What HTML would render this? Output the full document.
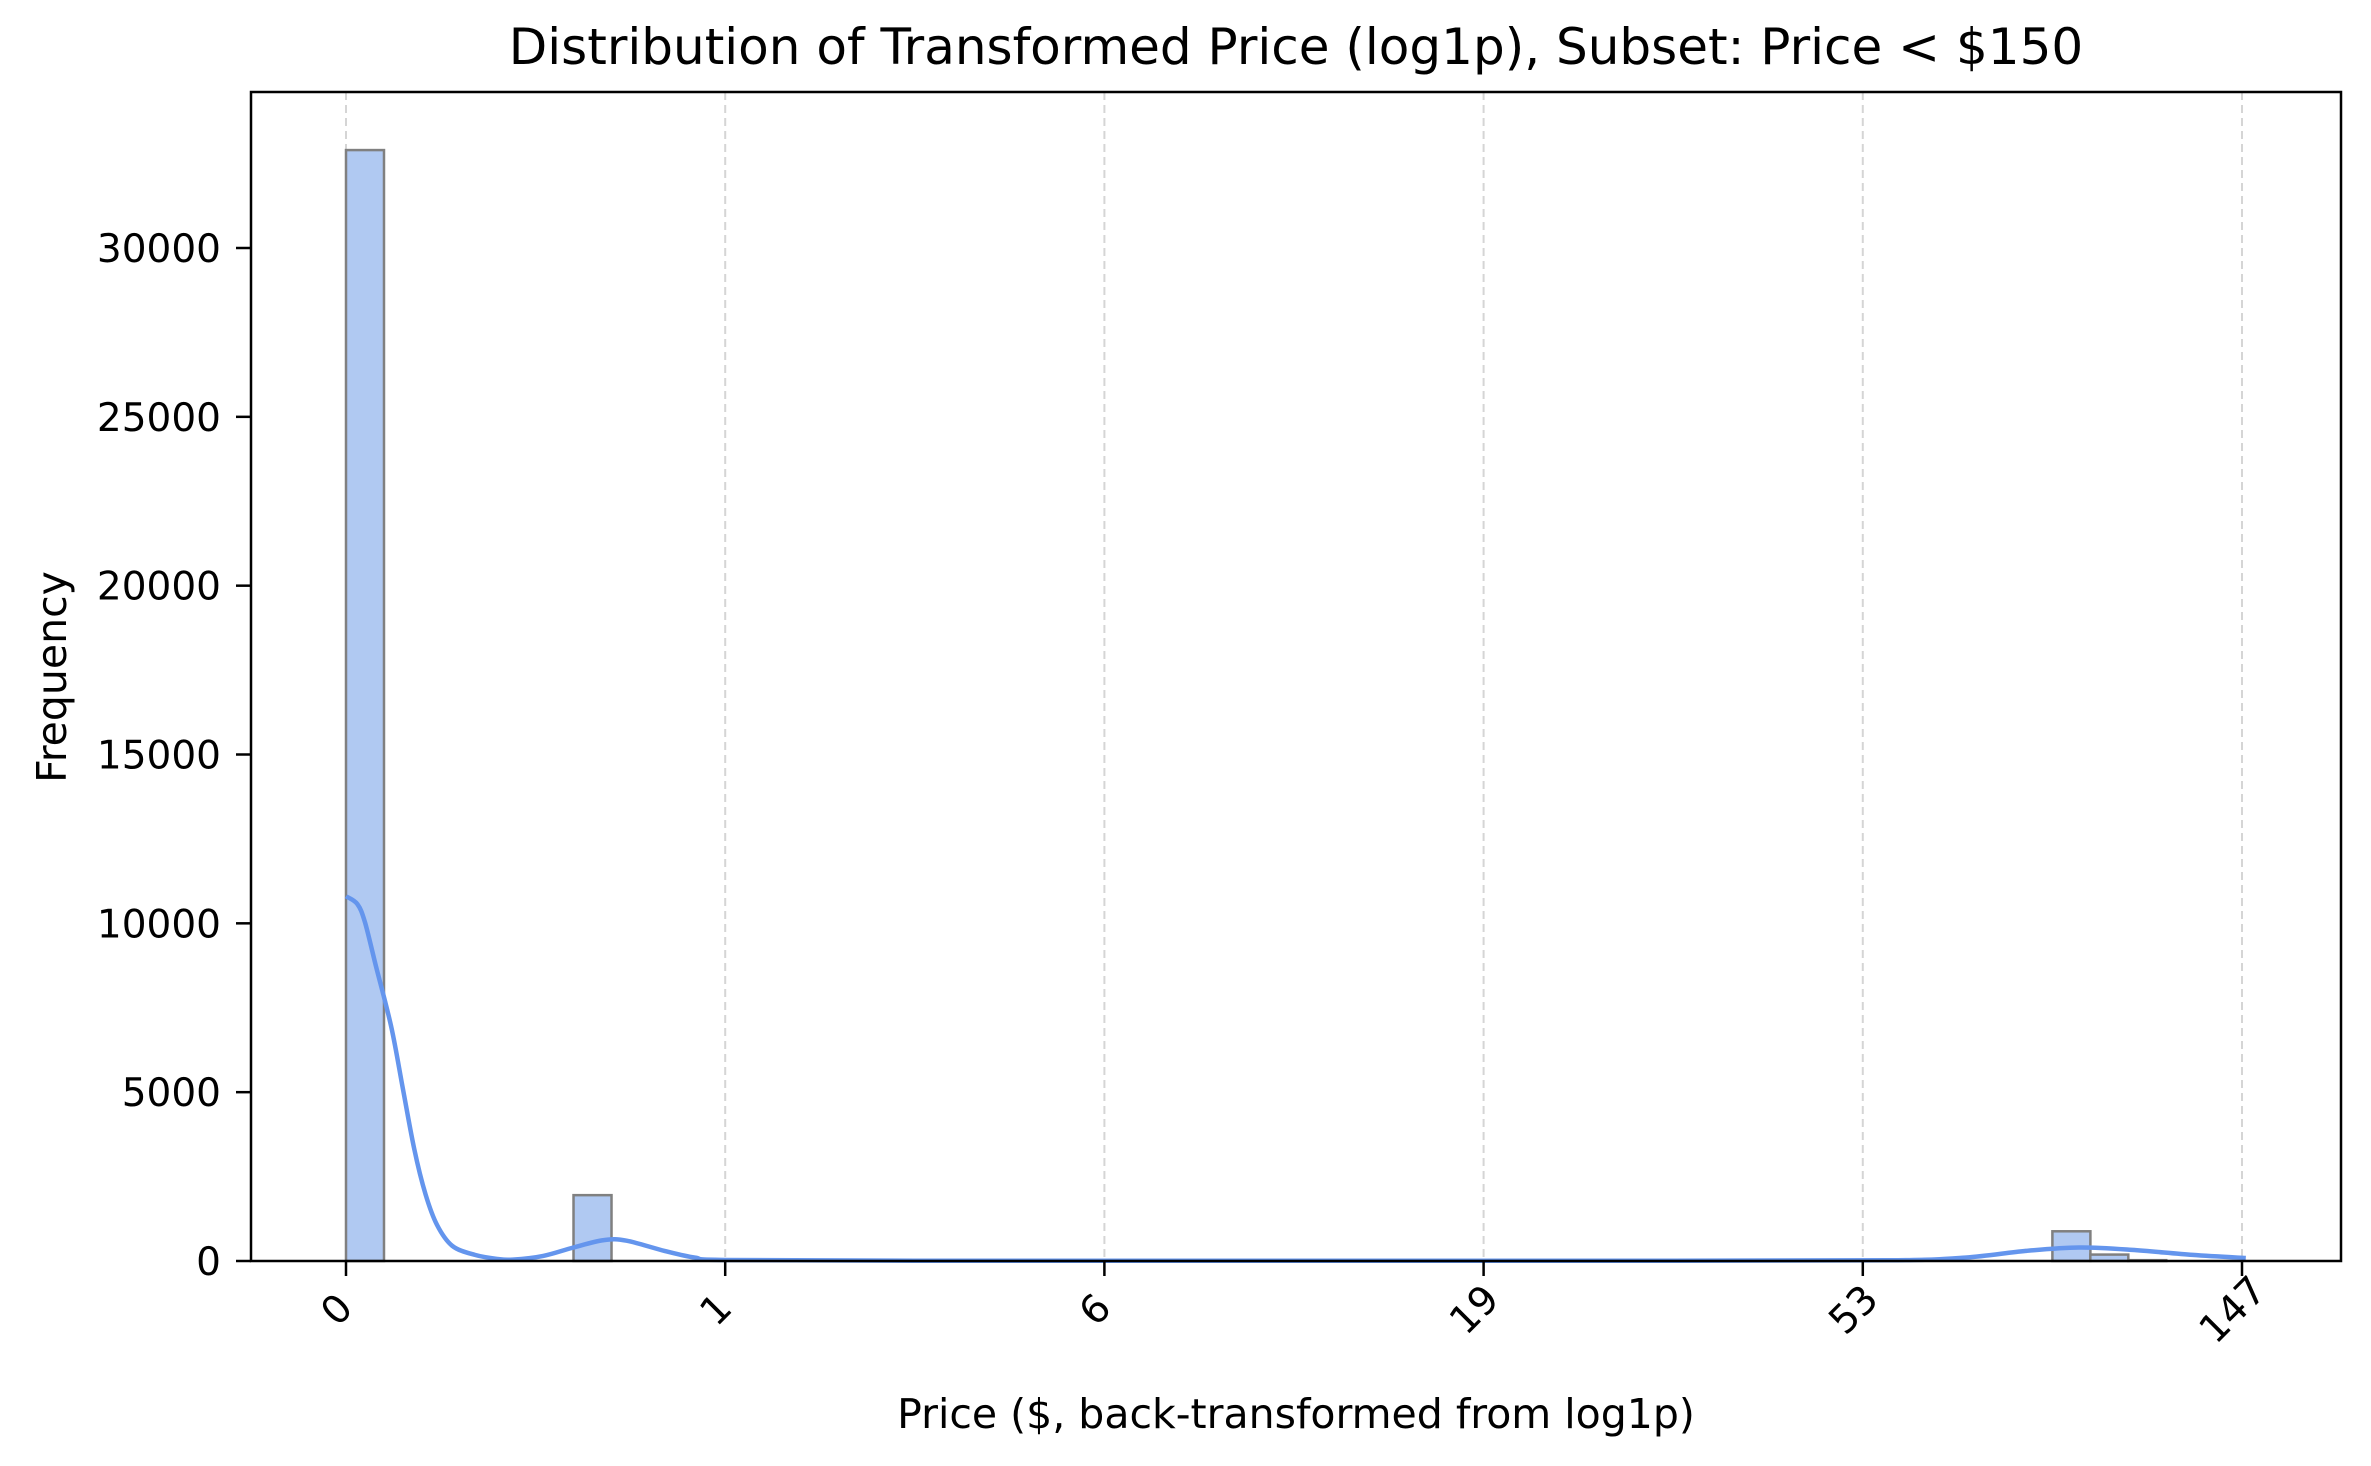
<!DOCTYPE html>
<html><head><meta charset="utf-8"><style>
html,body{margin:0;padding:0;background:#fff;}
svg{display:block;font-family:"DejaVu Sans","Liberation Sans",sans-serif;}
</style></head>
<body>
<svg id="chart" width="2371" height="1466" viewBox="0 0 2371 1466">
<text x="1296" y="64" font-size="50" text-anchor="middle">Distribution of Transformed Price (log1p), Subset: Price &lt; $150</text>
<text x="1296" y="1428" font-size="41" text-anchor="middle">Price ($, back-transformed from log1p)</text>
<text transform="translate(66,677) rotate(-90)" font-size="41" text-anchor="middle">Frequency</text>
<g id="plot"></g>
</svg>
<script>
const xTicks = [0, 1, 2, 3, 4, 5];
const xTickLabels = ["0", "1", "6", "19", "53", "147"];
const yTicks = [0, 5000, 10000, 15000, 20000, 25000, 30000];
const binStarts = [0, 0.6, 4.5, 4.6, 4.7];
const binCounts = [32900, 1950, 880, 190, 25];
const kdeX = [0,0.03,0.05,0.08,0.12,0.15,0.18,0.21,0.24,0.28,0.34,0.4,0.44,0.52,0.6,0.68,0.74,0.84,0.92,1.0,1.5,2.5,3.5,4.07,4.27,4.43,4.57,4.71,4.87,5.01];
const kdeY = [10800,10570,10030,8690,6900,5100,3310,1970,1070,450,180,60,40,150,400,620,600,300,100,30,10,5,10,20,100,300,400,330,180,90];

const NS = "http://www.w3.org/2000/svg";
const L = 251, R = 2341, T = 92, B = 1261;
const X0 = 346, XU = 379.2;
const binW = 0.1002;
const sx = v => X0 + v * XU;
const sy = v => B - v * (B - 248) / 30000;
const g = document.getElementById('plot');
function mk(tag, attrs) {
  const e = document.createElementNS(NS, tag);
  for (const k in attrs) e.setAttribute(k, attrs[k]);
  g.appendChild(e);
  return e;
}
xTicks.forEach((t, i) => {
  const x = sx(t);
  const gl = mk('line', {x1: x, x2: x, y1: T, y2: B, stroke: '#d5d5d5', 'stroke-width': 2, 'stroke-dasharray': '8,5'});
  
  
});
binStarts.forEach((s, i) => {
  const x = sx(s), w = sx(s + binW) - x, y = sy(binCounts[i]);
  const r = mk('rect', {x: x, y: y, width: w, height: B - y, fill: '#b0c9f2', stroke: '#808080', 'stroke-width': 2.5});
  
  
});
// smooth curve (Catmull-Rom to cubic Bezier)
const pts = kdeX.map((v, i) => [sx(v), Math.min(B, sy(kdeY[i]))]);
let d = 'M' + pts[0][0].toFixed(1) + ',' + pts[0][1].toFixed(1);
for (let i = 0; i < pts.length - 1; i++) {
  const p0 = pts[i - 1] || pts[i], p1 = pts[i], p2 = pts[i + 1], p3 = pts[i + 2] || p2;
  const c1 = [p1[0] + (p2[0] - p0[0]) / 6, Math.min(B, p1[1] + (p2[1] - p0[1]) / 6)];
  const c2 = [p2[0] - (p3[0] - p1[0]) / 6, Math.min(B, p2[1] - (p3[1] - p1[1]) / 6)];
  d += ` C${c1[0].toFixed(1)},${c1[1].toFixed(1)} ${c2[0].toFixed(1)},${c2[1].toFixed(1)} ${p2[0].toFixed(1)},${p2[1].toFixed(1)}`;
}
const kde = mk('path', {d: d, fill: 'none', stroke: '#6495ed', 'stroke-width': 4.5, 'stroke-linejoin': 'round'});


const frame = mk('rect', {x: L, y: T, width: R - L, height: B - T, fill: 'none', stroke: '#000', 'stroke-width': 2.5});


xTicks.forEach((t, i) => {
  const x = sx(t);
  const tk = mk('line', {x1: x, x2: x, y1: B, y2: B + 15, stroke: '#000', 'stroke-width': 2.5});
  
  
  const lb = mk('text', {x: 0, y: 0, 'font-size': 39, 'text-anchor': 'middle', transform: `translate(${x},${B + 58}) rotate(-45)`});
  lb.textContent = xTickLabels[i];
  
  
});
yTicks.forEach(t => {
  const y = sy(t);
  const tk = mk('line', {x1: L - 15, x2: L, y1: y, y2: y, stroke: '#000', 'stroke-width': 2.5});
  
  
  const lb = mk('text', {x: L - 30, y: y + 14, 'font-size': 39, 'text-anchor': 'end'});
  lb.textContent = t;
  
  
});
</script>
</body></html>
